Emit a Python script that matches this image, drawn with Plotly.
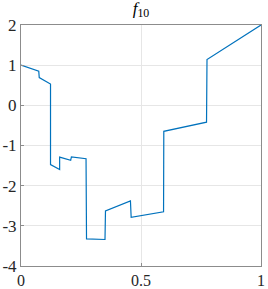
import plotly.graph_objects as go

x_vals = [0.0, 0.074, 0.076, 0.123, 0.123, 0.161, 0.161, 0.207, 0.210, 0.271, 0.273, 0.350, 0.352, 0.456, 0.459, 0.594, 0.595, 0.773, 0.775, 1.0]
y_vals = [1.0, 0.85, 0.69, 0.53, -1.475, -1.60, -1.29, -1.37, -1.285, -1.33, -3.325, -3.34, -2.63, -2.38, -2.79, -2.65, -0.647, -0.42, 1.14, 2.0]

x_ticks = [0, 0.5, 1]
x_ticklabels = ["0", "0.5", "1"]
y_ticks = [-4, -3, -2, -1, 0, 1, 2]
y_ticklabels = ["-4", "-3", "-2", "-1", "0", "1", "2"]

fig = go.Figure()
fig.add_trace(go.Scatter(x=x_vals, y=y_vals, mode="lines",
                         line=dict(color="#0072BD", width=1.2), showlegend=False,
                         cliponaxis=False))

axis_common = dict(showgrid=True, gridcolor="#E6E6E6", gridwidth=1,
                   showline=True, linecolor="#8C8C8C", linewidth=1, mirror=True,
                   ticks="inside", ticklen=3, tickcolor="#8C8C8C", zeroline=False,
                   ticklabeloverflow="allow", automargin=False)

fig.update_layout(
    width=268, height=289,
    margin=dict(l=21, r=7, t=25, b=23),
    paper_bgcolor="white", plot_bgcolor="white",
    title=dict(text="<i>f</i><sub>10</sub>", x=0.5, xref="paper", xanchor="center",
               y=1 - 2 / 289, yref="container", yanchor="top",
               font=dict(family="Liberation Serif", size=17, color="#000000")),
    xaxis=dict(range=[0, 1], tickvals=x_ticks, ticktext=x_ticklabels, ticklabelstandoff=0,
               tickfont=dict(family="Liberation Serif", size=16, color="#262626"),
               **axis_common),
    yaxis=dict(range=[-4, 2], tickvals=y_ticks, ticktext=y_ticklabels, ticklabelstandoff=0,
               tickfont=dict(family="Liberation Serif", size=17, color="#262626"),
               **axis_common),
)

fig.write_html("out.html",
               config={"displayModeBar": False},
               post_script="document.body.style.margin='0';document.body.style.overflow='hidden';")
